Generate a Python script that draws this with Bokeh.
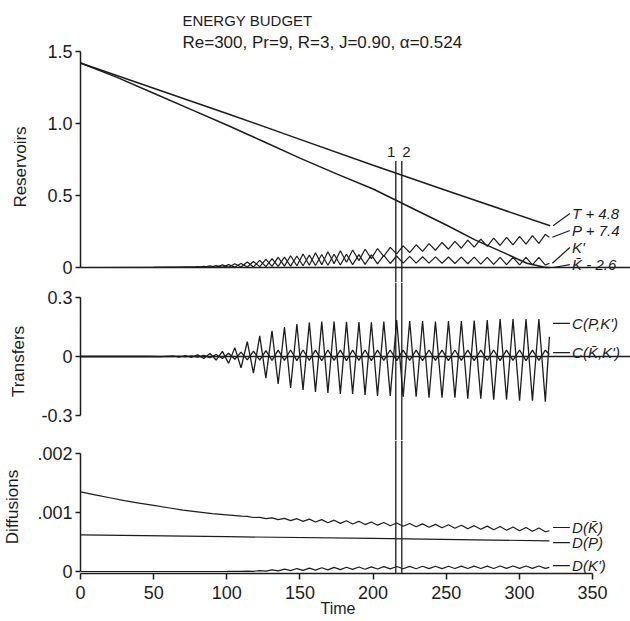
import numpy as np
from bokeh.plotting import figure
from bokeh.models import Range1d, Span, Title, FixedTicker
from bokeh.layouts import column
from bokeh.embed import file_html
from bokeh.resources import INLINE
from bokeh.core.properties import value

FONT = "Liberation Sans"
INK = "#1c1c1c"

# ---------------- data ----------------
# times of the successive extrema of the oscillations
t_ext = [63.1, 67.3, 71.6, 75.8, 80.0, 84.3, 88.5, 92.7, 97.0, 101.2,
         105.5, 109.7, 114.0, 118.2, 122.5, 126.7, 130.9, 135.1, 139.4, 143.6,
         147.9, 152.1, 156.4, 160.6, 164.9, 169.1, 173.3, 177.6, 181.8, 186.0,
         190.3, 194.5, 198.8, 203.0, 207.3, 211.7, 216.1, 220.5, 225.0, 229.4,
         233.8, 238.2, 242.6, 247.1, 251.5, 255.9, 260.3, 264.7, 269.1, 273.6,
         278.0, 282.4, 286.8, 291.2, 295.6, 300.1, 304.5, 308.9, 313.3, 317.7]
t_end = 320.5

# Reservoirs
T_t = [0, 50, 100, 150, 200, 250, 321]
T_v = [1.42, 1.245, 1.07, 0.89, 0.71, 0.535, 0.29]

Kbar_t = [0, 25, 50, 75, 100, 125, 150, 175, 200, 225, 250, 270, 290, 305, 318, 321]
Kbar_v = [1.42, 1.32, 1.21, 1.10, 0.99, 0.875, 0.76, 0.65, 0.545, 0.42, 0.295, 0.19, 0.10, 0.03, 0.0, 0.0]

P_pre_t = [0, 50]
P_pre_v = [0.0, 0.001]
P_ext = [0.001, 0.003, 0.001, 0.005, 0.001, 0.008, 0.002, 0.013, 0.002, 0.020,
         0.003, 0.028, 0.004, 0.042, 0.006, 0.056, 0.008, 0.070, 0.010, 0.082,
         0.012, 0.094, 0.016, 0.102, 0.020, 0.110, 0.027, 0.116, 0.036, 0.122,
         0.048, 0.127, 0.062, 0.132, 0.078, 0.140, 0.095, 0.150, 0.104, 0.158,
         0.112, 0.166, 0.120, 0.174, 0.127, 0.182, 0.134, 0.190, 0.141, 0.197,
         0.147, 0.204, 0.153, 0.210, 0.158, 0.216, 0.163, 0.222, 0.168, 0.230]
P_end = 0.21

Kp_pre_t = [0, 50]
Kp_pre_v = [0.0, 0.001]
Kp_ext = [0.003, 0.001, 0.005, 0.001, 0.007, 0.001, 0.012, 0.002, 0.018, 0.002,
          0.026, 0.003, 0.038, 0.004, 0.050, 0.006, 0.062, 0.008, 0.072, 0.010,
          0.080, 0.012, 0.086, 0.014, 0.090, 0.016, 0.092, 0.018, 0.092, 0.020,
          0.090, 0.022, 0.088, 0.025, 0.085, 0.028, 0.080, 0.030, 0.077, 0.031,
          0.075, 0.031, 0.074, 0.030, 0.073, 0.028, 0.072, 0.026, 0.072, 0.024,
          0.071, 0.022, 0.071, 0.020, 0.070, 0.019, 0.070, 0.018, 0.070, 0.017]
Kp_end = 0.03

# Transfers
CPK_pre_t = [0, 45, 55]
CPK_pre_v = [0.0, 0.001, -0.001]
CPK_ext = [0.003, -0.003, 0.004, -0.005, 0.008, -0.010, 0.015, -0.018, 0.026, -0.035,
           0.045, -0.058, 0.075, -0.085, 0.105, -0.110, 0.130, -0.140, 0.150, -0.160,
           0.165, -0.170, 0.172, -0.180, 0.178, -0.185, 0.178, -0.190, 0.176, -0.190,
           0.175, -0.195, 0.174, -0.200, 0.178, -0.200, 0.185, -0.205, 0.180, -0.205,
           0.180, -0.210, 0.178, -0.210, 0.180, -0.210, 0.180, -0.215, 0.182, -0.215,
           0.185, -0.220, 0.190, -0.220, 0.190, -0.225, 0.190, -0.225, 0.190, -0.230]
CPK_end = 0.10

CKK_pre_t = [0, 50]
CKK_pre_v = [0.0, 0.0]
CKK_ext = [-0.001, 0.002, -0.002, 0.003, -0.003, 0.006, -0.006, 0.010, -0.010, 0.016,
           -0.014, 0.022, -0.017, 0.027, -0.019, 0.030, -0.020, 0.032, -0.020, 0.033,
           -0.021, 0.033, -0.020, 0.032, -0.021, 0.033, -0.020, 0.032, -0.021, 0.032,
           -0.020, 0.033, -0.021, 0.032, -0.020, 0.033, -0.021, 0.032, -0.020, 0.032,
           -0.021, 0.033, -0.020, 0.032, -0.021, 0.033, -0.020, 0.032, -0.021, 0.032,
           -0.020, 0.033, -0.021, 0.032, -0.020, 0.033, -0.021, 0.032, -0.020, 0.032]
CKK_end = 0.01

# Diffusions
DK_pre_t = [0, 10, 20, 30, 40, 50, 60, 70, 80, 90, 100, 110]
DK_pre_v = [0.00135, 0.00130, 0.00125, 0.00120, 0.00116, 0.00112,
            0.00108, 0.00104, 0.00101, 0.00098, 0.00096, 0.00094]
DK_ext = [0.000933, 0.000915, 0.000918, 0.000897, 0.000908, 0.000880, 0.000901, 0.000863,
          0.000895, 0.000850, 0.000887, 0.000838, 0.000879, 0.000826, 0.000870, 0.000815, 0.000860, 0.000805,
          0.000850, 0.000795, 0.000840, 0.000785, 0.000830, 0.000775, 0.000822, 0.000766, 0.000814, 0.000758,
          0.000807, 0.000749, 0.000799, 0.000741, 0.000792, 0.000732, 0.000784, 0.000724, 0.000777, 0.000715,
          0.000769, 0.000707, 0.000762, 0.000698, 0.000754, 0.000690, 0.000746, 0.000682, 0.000738, 0.000674]
DK_end = 0.00069

DP_t = [0, 100, 200, 320.5]
DP_v = [0.00062, 0.00059, 0.00056, 0.00052]

DKp_pre_t = [0, 100]
DKp_pre_v = [0.0, 0.000001]
DKp_ext = [0.000003, 0.000001, 0.000008, 0.000003, 0.000016, 0.000006, 0.000028, 0.000010, 0.000040, 0.000015,
           0.000050, 0.000020, 0.000058, 0.000024, 0.000064, 0.000028, 0.000069, 0.000032, 0.000073, 0.000036,
           0.000076, 0.000039, 0.000079, 0.000042, 0.000082, 0.000044, 0.000084, 0.000046, 0.000086, 0.000047,
           0.000088, 0.000048, 0.000089, 0.000049, 0.000090, 0.000050, 0.000091, 0.000050, 0.000092, 0.000051,
           0.000092, 0.000051, 0.000093, 0.000052, 0.000093, 0.000052, 0.000094, 0.000052, 0.000094, 0.000053]
DKp_end = 0.00007

events_t = [215.5, 219.6]
event_names = ["1", "2"]

x_ticks = [0, 50, 100, 150, 200, 250, 300, 350]

# ---------------- layout constants ----------------
LEFT = 78
FW = 551
XR = Range1d(0, 376.6)
LABEL_X = 336.0
LEAD_X0 = 323.0
LEAD_X1 = 334.5


def series(pre_t, pre_v, ext, end, first=0):
    return (list(pre_t) + t_ext[first:] + [t_end],
            list(pre_v) + list(ext) + [end])


def base(frame_h, y0, y1):
    p = figure(frame_width=FW, frame_height=frame_h, x_range=XR,
               y_range=Range1d(y0, y1), output_backend="svg",
               toolbar_location=None, tools="", min_border_left=LEFT,
               min_border_right=1, min_border_top=0, min_border_bottom=0,
               x_axis_location=None)
    p.outline_line_color = None
    p.grid.visible = False
    p.background_fill_color = "white"
    p.border_fill_color = "white"
    return p


def style_y(p, ticks, labels, bounds, name, standoff):
    ax = p.yaxis[0]
    ax.bounds = bounds
    ax.ticker = FixedTicker(ticks=ticks)
    ax.major_label_overrides = dict(zip(ticks, labels))
    ax.minor_tick_line_color = None
    ax.major_tick_out = 5
    ax.major_tick_in = 0
    ax.axis_line_width = 1.5
    ax.axis_line_color = INK
    ax.major_tick_line_color = INK
    ax.major_tick_line_width = 1.5
    ax.major_label_text_font = FONT
    ax.major_label_text_font_size = "18px"
    ax.major_label_text_color = INK
    ax.major_label_standoff = 3
    ax.axis_label = name
    ax.axis_label_text_font = FONT
    ax.axis_label_text_font_size = "17px"
    ax.axis_label_text_font_style = "normal"
    ax.axis_label_text_color = INK
    ax.axis_label_standoff = standoff


def labels(p, ends, ys, texts, slanted=True):
    for (ex, ey), ly in zip(ends, ys):
        p.line([ex + 2.0 if slanted else LEAD_X0, LEAD_X1], [ey if slanted else ly, ly],
               line_color=INK, line_width=1.2)
    p.text(x=[LABEL_X] * len(texts), y=ys, text=texts,
           text_font=value(FONT), text_font_size="15px", text_font_style="italic",
           text_color=INK, text_baseline="middle", text_align="left")


LW = 1.5

# ---------------- top: reservoirs ----------------
p1 = base(231, -0.104, 1.5)
p1.add_layout(Title(text="Re=300, Pr=9, R=3, J=0.90, \u03b1=0.524", align="left",
                    offset=102, text_font=FONT, text_font_size="17px",
                    text_font_style="normal", text_color=INK, standoff=0), "above")
p1.add_layout(Title(text="ENERGY BUDGET", align="left", offset=102, text_font=FONT,
                    text_font_size="15px", text_font_style="normal", text_color=INK,
                    standoff=3), "above")
p1.min_border_top = 51
style_y(p1, [0, 0.5, 1.0, 1.5], ["0", "0.5", "1.0", "1.5"], (0, 1.5), "Reservoirs", 14)
p1.add_layout(Span(location=0, dimension="width", line_color=INK, line_width=LW))

P_x, P_y = series(P_pre_t, P_pre_v, P_ext, P_end)
K_x, K_y = series(Kp_pre_t, Kp_pre_v, Kp_ext, Kp_end)
p1.line(T_t, T_v, line_color=INK, line_width=LW)
p1.line(Kbar_t, Kbar_v, line_color=INK, line_width=LW)
p1.line(P_x, P_y, line_color=INK, line_width=1.2)
p1.line(K_x, K_y, line_color=INK, line_width=1.2)
p1.segment(x0=events_t, y0=[0.74] * 2, x1=events_t, y1=[-0.104] * 2,
           line_color=INK, line_width=1.3)
p1.text(x=[events_t[0] - 3.2, events_t[1] + 3.2], y=[0.80, 0.80], text=event_names,
        text_font=value(FONT), text_font_size="15px", text_color=INK,
        text_align="center", text_baseline="middle")
labels(p1, [(T_t[-1], T_v[-1]), (P_x[-1], P_y[-1]), (K_x[-1], K_y[-1]),
            (Kbar_t[-1], Kbar_v[-1])],
       [0.375, 0.257, 0.139, 0.02], ["T + 4.8", "P + 7.4", "K'", "K\u0304 - 2.6"])

# ---------------- middle: transfers ----------------
p2 = base(158, -0.427, 0.376)
style_y(p2, [-0.3, 0, 0.3], ["-0.3", "0", "0.3"], (-0.3, 0.3), "Transfers", 10)
p2.add_layout(Span(location=0, dimension="width", line_color=INK, line_width=LW))
C1x, C1y = series(CPK_pre_t, CPK_pre_v, CPK_ext, CPK_end)
C2x, C2y = series(CKK_pre_t, CKK_pre_v, CKK_ext, CKK_end)
p2.line(C2x, C2y, line_color=INK, line_width=1.3)
p2.line(C1x, C1y, line_color=INK, line_width=1.3)
for t in events_t:
    p2.add_layout(Span(location=t, dimension="height", line_color=INK, line_width=1.3))
labels(p2, [(C1x[-1], C1y[-1]), (C2x[-1], C2y[-1])], [0.168, 0.02],
       ["C(P,K')", "C(K\u0304,K')"], slanted=False)

# ---------------- bottom: diffusions ----------------
p3 = figure(frame_width=FW, frame_height=133, x_range=XR,
            y_range=Range1d(-0.0000339, 0.00222), output_backend="svg",
            toolbar_location=None, tools="", min_border_left=LEFT,
            min_border_right=1, min_border_top=0, min_border_bottom=47)
p3.outline_line_color = None
p3.grid.visible = False
style_y(p3, [0, 0.001, 0.002], ["0", ".001", ".002"], (0, 0.002), "Diffusions", 12)
xa = p3.xaxis[0]
xa.bounds = (0, 350)
xa.ticker = FixedTicker(ticks=x_ticks)
xa.minor_tick_line_color = None
xa.major_tick_out = 6
xa.major_tick_in = 0
xa.axis_line_width = 1.5
xa.axis_line_color = INK
xa.major_tick_line_color = INK
xa.major_tick_line_width = 1.5
xa.major_label_text_font = FONT
xa.major_label_text_font_size = "18px"
xa.major_label_text_color = INK
xa.major_label_standoff = 6
p3.add_layout(Title(text="Time", align="left", offset=240, text_font=FONT,
                    text_font_size="16px", text_font_style="normal", text_color=INK,
                    standoff=-8), "below")

D1x, D1y = series(DK_pre_t, DK_pre_v, DK_ext, DK_end, first=12)
D3x, D3y = series(DKp_pre_t, DKp_pre_v, DKp_ext, DKp_end, first=10)
p3.line(D1x, D1y, line_color=INK, line_width=1.2)
p3.line(DP_t, DP_v, line_color=INK, line_width=1.2)
p3.line(D3x, D3y, line_color=INK, line_width=1.2)
for t in events_t:
    p3.add_layout(Span(location=t, dimension="height", line_color=INK, line_width=1.3))
labels(p3, [(D1x[-1], D1y[-1]), (DP_t[-1], DP_v[-1]), (D3x[-1], D3y[-1])],
       [0.000746, 0.00049, 0.0001], ["D(K\u0304)", "D(P)", "D(K')"], slanted=False)

layout = column(p1, p2, p3)
open("out.html", "w").write(file_html(layout, INLINE))
